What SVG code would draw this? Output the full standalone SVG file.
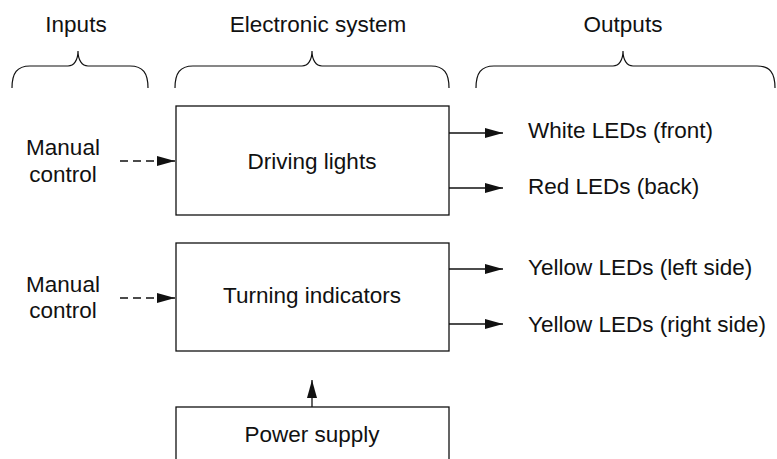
<svg xmlns="http://www.w3.org/2000/svg" width="777" height="459" viewBox="0 0 777 459">
<style>
text{font-family:"Liberation Sans",Arial,sans-serif;font-size:22.5px;fill:#111}
.c{text-anchor:middle}
.box{fill:#fff;stroke:#111;stroke-width:1.3}
.br{fill:none;stroke:#111;stroke-width:1.2}
.ln{fill:none;stroke:#111;stroke-width:1.3}
.dash{stroke-dasharray:8,5}
</style>
<defs>
<marker id="ah" viewBox="0 0 18 10" refX="18" refY="5" markerWidth="18" markerHeight="10" markerUnits="userSpaceOnUse" orient="auto">
<path d="M0,0 L18,5 L0,10 Z" fill="#111"/>
</marker>
</defs>
<g id="headers">
<text class="c" x="76" y="32">Inputs</text>
<text class="c" x="318" y="32">Electronic system</text>
<text class="c" x="623" y="32">Outputs</text>
<path class="br" d="M12,88 C12,73 17,66 30,66 L68,66 C74,66 78,60 78,51 C78,60 82,66 88,66 L130,66 C143,66 148,73 148,88"/>
<path class="br" d="M175,88 C175,73 180,66 193,66 L302,66 C308,66 312,60 312,51 C312,60 316,66 322,66 L431,66 C444,66 449,73 449,88"/>
<path class="br" d="M476,88 C476,73 481,66 494,66 L613,66 C619,66 623,60 623,51 C623,60 627,66 633,66 L757,66 C770,66 775,73 775,88"/>
</g>
<g id="in1">
<text class="c" x="63" y="155">Manual</text>
<text class="c" x="63" y="182">control</text>
</g>
<g id="in2">
<text class="c" x="63" y="292">Manual</text>
<text class="c" x="63" y="318">control</text>
</g>
<g id="driving">
<rect class="box" x="176" y="106" width="273" height="109"/>
<text class="c" x="312" y="169">Driving lights</text>
</g>
<g id="turning">
<rect class="box" x="176" y="243" width="273" height="108"/>
<text class="c" x="312" y="303">Turning indicators</text>
</g>
<g id="power">
<rect class="box" x="176" y="407" width="273" height="70"/>
<text class="c" x="312" y="442">Power supply</text>
</g>
<g id="out1"><text x="528" y="138">White LEDs (front)</text></g>
<g id="out2"><text x="528" y="194">Red LEDs (back)</text></g>
<g id="out3"><text x="528" y="275">Yellow LEDs (left side)</text></g>
<g id="out4"><text x="528" y="332">Yellow LEDs (right side)</text></g>
<g id="connectors">
<line class="ln dash" x1="120" y1="161" x2="175" y2="161" marker-end="url(#ah)"/>
<line class="ln dash" x1="120" y1="298" x2="175" y2="298" marker-end="url(#ah)"/>
<line class="ln" x1="449" y1="133" x2="503" y2="133" marker-end="url(#ah)"/>
<line class="ln" x1="449" y1="188" x2="503" y2="188" marker-end="url(#ah)"/>
<line class="ln" x1="449" y1="269" x2="503" y2="269" marker-end="url(#ah)"/>
<line class="ln" x1="449" y1="324" x2="503" y2="324" marker-end="url(#ah)"/>
<line class="ln" x1="312" y1="407" x2="312" y2="380" marker-end="url(#ah)"/>
</g>
</svg>
